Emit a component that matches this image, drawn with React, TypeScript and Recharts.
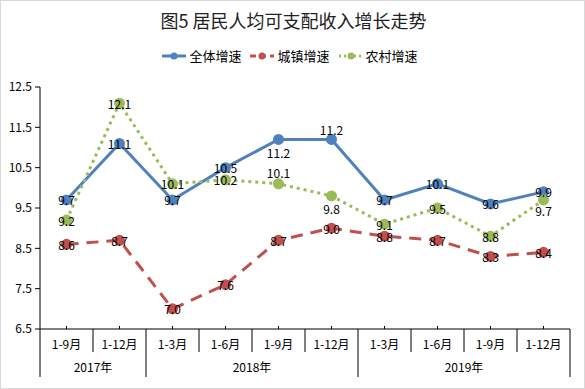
import { LineChart, Line, XAxis, YAxis, LabelList } from 'recharts';

const months = ['1-9月', '1-12月', '1-3月', '1-6月', '1-9月', '1-12月', '1-3月', '1-6月', '1-9月', '1-12月'];
const years = ['2017年', '2017年', '2018年', '2018年', '2018年', '2018年', '2019年', '2019年', '2019年', '2019年'];
const overall = [9.7, 11.1, 9.7, 10.5, 11.2, 11.2, 9.7, 10.1, 9.6, 9.9];
const urban = [8.6, 8.7, 7.0, 7.6, 8.7, 9.0, 8.8, 8.7, 8.3, 8.4];
const rural = [9.2, 12.1, 10.1, 10.2, 10.1, 9.8, 9.1, 9.5, 8.8, 9.7];
const yTicks = [6.5, 7.5, 8.5, 9.5, 10.5, 11.5, 12.5];

// label nudges (px) so the numbers sit where the original puts them
const overallLabelDy = [0, 0, 0, 0, 13, -10, 0, 0, 0, 0];
const ruralLabelDy = [0, 0, 0, 0, -11, 13, 0, 0, 0, 11];

const BLUE = '#4f81bd';
const RED = '#c0504d';
const GREEN = '#9bbb59';
const FONT = "'Noto Sans CJK SC', 'Liberation Sans', sans-serif";

const W = 585;
const H = 389;
const TOP = 87;
const LEFT = 40;
const RIGHT = 15;
const XAXIS_H = 60;
const AXIS_Y = H - XAXIS_H;
const BAND = (W - LEFT - RIGHT) / months.length;

const data = months.map((m, i) => ({
  key: `${years[i]}${m}${i}`,
  overall: overall[i],
  urban: urban[i],
  rural: rural[i],
}));

// eslint-disable-next-line @typescript-eslint/no-explicit-any
function XTick(props: any) {
  const { x } = props;
  const index: number = props.index ?? props.payload?.index ?? 0;
  const left = x - BAND / 2;
  const yearStart = index === 0 || years[index] !== years[index - 1];
  const last = index === months.length - 1;
  let yearLabel: JSX.Element | null = null;
  if (yearStart) {
    let n = 0;
    while (index + n < years.length && years[index + n] === years[index]) n++;
    yearLabel = (
      <text x={left + (n * BAND) / 2} y={AXIS_Y + 37} textAnchor="middle" dominantBaseline="central" fontSize={12} fill="#000">
        {years[index]}
      </text>
    );
  }
  return (
    <g>
      <line x1={x} x2={x} y1={AXIS_Y - 3} y2={AXIS_Y} stroke="#000" />
      <line x1={left} x2={left} y1={AXIS_Y} y2={yearStart ? AXIS_Y + 48 : AXIS_Y + 23} stroke="#000" />
      {last && <line x1={x + BAND / 2} x2={x + BAND / 2} y1={AXIS_Y} y2={AXIS_Y + 48} stroke="#000" />}
      <text x={x} y={AXIS_Y + 14} textAnchor="middle" dominantBaseline="central" fontSize={12} fill="#000">
        {months[index]}
      </text>
      {yearLabel}
    </g>
  );
}

function makeLabel(dy: number[]) {
  // eslint-disable-next-line @typescript-eslint/no-explicit-any
  return (p: any) => (
    <text
      x={p.x}
      y={p.y + (dy[p.index] ?? 0)}
      textAnchor="middle"
      dominantBaseline="central"
      fontSize={12}
      fill="#000"
    >
      {Number(p.value).toFixed(1)}
    </text>
  );
}

const zeros = months.map(() => 0);

function LegendItem({ color, dash, label }: { color: string; dash?: string; label: string }) {
  return (
    <span style={{ display: 'inline-flex', alignItems: 'center', marginRight: 8 }}>
      <svg width={26} height={10}>
        <line x1={1} x2={25} y1={5} y2={5} stroke={color} strokeWidth={3} strokeDasharray={dash} />
        <circle cx={13} cy={5} r={3.5} fill={color} />
      </svg>
      <span style={{ marginLeft: 2 }}>{label}</span>
    </span>
  );
}

export default function App() {
  return (
    <div
      style={{
        position: 'relative',
        width: W,
        height: H,
        boxSizing: 'border-box',
        border: '1px solid #d9d9d9',
        background: '#fff',
        fontFamily: FONT,
      }}
    >
      <style>{'body{margin:0}'}</style>
      <div
        style={{
          position: 'absolute',
          top: 6,
          left: 0,
          width: W,
          textAlign: 'center',
          fontSize: 18,
          fontWeight: 400,
          color: '#222',
        }}
      >
        图5 居民人均可支配收入增长走势
      </div>
      <div
        style={{
          position: 'absolute',
          top: 45,
          left: 0,
          width: W,
          display: 'flex',
          justifyContent: 'center',
          fontSize: 13,
          color: '#000',
        }}
      >
        <LegendItem color={BLUE} label="全体增速" />
        <LegendItem color={RED} dash="6 4" label="城镇增速" />
        <LegendItem color={GREEN} dash="2 3" label="农村增速" />
      </div>
      <div style={{ position: 'absolute', top: -1, left: -1 }}>
        <LineChart width={W} height={H} data={data} margin={{ top: TOP, right: RIGHT, bottom: 0, left: 0 }}>
          <XAxis
            dataKey="key"
            height={XAXIS_H}
            interval={0}
            padding={{ left: BAND / 2, right: BAND / 2 }}
            axisLine={{ stroke: '#000' }}
            tickLine={false}
            tick={<XTick />}
          />
          <YAxis
            width={LEFT}
            domain={[6.5, 12.5]}
            ticks={yTicks}
            tickFormatter={(v: number) => v.toFixed(1)}
            tick={{ fill: '#000', fontSize: 12, fontFamily: FONT }}
            tickSize={5}
            tickMargin={3}
            tickLine={{ stroke: '#000' }}
            axisLine={{ stroke: '#000' }}
          />
          <Line
            dataKey="overall"
            stroke={BLUE}
            strokeWidth={3}
            dot={{ r: 4, fill: BLUE, stroke: BLUE }}
            isAnimationActive={false}
          >
            <LabelList dataKey="overall" content={makeLabel(overallLabelDy)} />
          </Line>
          <Line
            dataKey="urban"
            stroke={RED}
            strokeWidth={3}
            strokeDasharray="12 8"
            dot={{ r: 4, fill: RED, stroke: RED, strokeDasharray: '' }}
            isAnimationActive={false}
          >
            <LabelList dataKey="urban" content={makeLabel(zeros)} />
          </Line>
          <Line
            dataKey="rural"
            stroke={GREEN}
            strokeWidth={3}
            strokeDasharray="3 4"
            dot={{ r: 4, fill: GREEN, stroke: GREEN, strokeDasharray: '' }}
            isAnimationActive={false}
          >
            <LabelList dataKey="rural" content={makeLabel(ruralLabelDy)} />
          </Line>
        </LineChart>
      </div>
    </div>
  );
}
